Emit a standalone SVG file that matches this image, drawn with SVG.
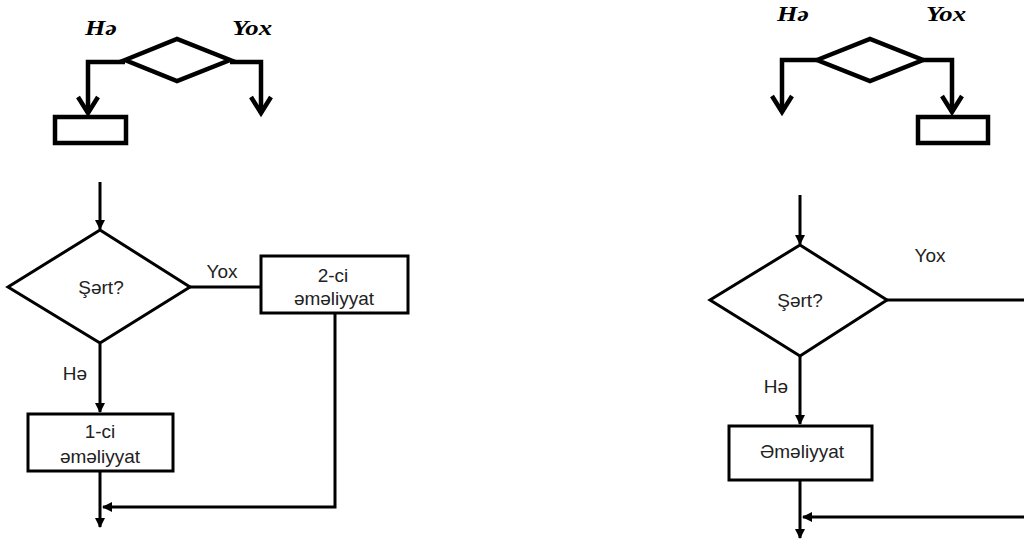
<svg xmlns="http://www.w3.org/2000/svg" width="1024" height="543" viewBox="0 0 1024 543">
<defs>
<style>
.big{fill:none;stroke:#000;stroke-width:4.5;stroke-linejoin:miter}
.ln{fill:none;stroke:#000;stroke-width:3}
.shape{fill:#fff;stroke:#000;stroke-width:3}
.ti{font-family:"Liberation Serif",serif;font-style:italic;font-weight:bold;font-size:22px;fill:#000}
.t{font-family:"Liberation Sans",Arial,sans-serif;font-size:19px;fill:#222;text-anchor:middle}
</style>
<marker id="ah" markerWidth="10" markerHeight="10" refX="9" refY="5" orient="auto" markerUnits="userSpaceOnUse">
<path d="M0,0 L10,5 L0,10 Z" fill="#000"/>
</marker>
</defs>
<rect width="1024" height="543" fill="#fff"/>

<!-- top-left legend -->
<g id="legend-left">
<text class="ti" x="85" y="35" textLength="32" lengthAdjust="spacingAndGlyphs">Hə</text>
<text class="ti" x="232" y="35" textLength="40" lengthAdjust="spacingAndGlyphs">Yox</text>
<polygon class="big" points="125,60 177,39 230,60 177,81"/>
<polyline class="big" points="125,62 88,62 88,113"/>
<polyline class="big" points="78,97 88,113 98,97"/>
<polyline class="big" points="230,62 261,62 261,113"/>
<polyline class="big" points="251,97 261,113 271,97"/>
<rect class="big" x="55" y="117" width="71" height="26"/>
</g>

<!-- top-right legend -->
<g id="legend-right">
<text class="ti" x="777" y="21" textLength="32" lengthAdjust="spacingAndGlyphs">Hə</text>
<text class="ti" x="926" y="21" textLength="40" lengthAdjust="spacingAndGlyphs">Yox</text>
<polygon class="big" points="817,60 870,39 923,60 870,81"/>
<polyline class="big" points="817,60 782,60 782,112"/>
<polyline class="big" points="772,96 782,112 792,96"/>
<polyline class="big" points="923,60 952,60 952,112"/>
<polyline class="big" points="942,96 952,112 962,96"/>
<rect class="big" x="918" y="117" width="70" height="26"/>
</g>

<!-- bottom-left flowchart -->
<g id="connectors-left">
<line class="ln" x1="100" y1="182" x2="100" y2="229" marker-end="url(#ah)"/>
<line class="ln" x1="190" y1="287" x2="260" y2="287"/>
<line class="ln" x1="100" y1="344" x2="100" y2="412" marker-end="url(#ah)"/>
<polyline class="ln" points="335,313 335,507 103,507" marker-end="url(#ah)"/>
<line class="ln" x1="100" y1="471" x2="100" y2="527" marker-end="url(#ah)"/>
<text class="t" x="222" y="278">Yox</text>
<text class="t" x="75" y="380">Hə</text>
</g>
<g id="cond-left">
<polygon class="shape" points="100,230 190,287 100,343 8,287"/>
<text class="t" x="101" y="294">Şərt?</text>
</g>
<g id="op2-left">
<rect class="shape" x="261" y="256" width="147" height="57"/>
<text class="t" x="333" y="282">2-ci</text>
<text class="t" x="334" y="305">əməliyyat</text>
</g>
<g id="op1-left">
<rect class="shape" x="28" y="414" width="145" height="57"/>
<text class="t" x="100" y="438">1-ci</text>
<text class="t" x="100" y="463">əməliyyat</text>
</g>

<!-- bottom-right flowchart -->
<g id="connectors-right">
<line class="ln" x1="800" y1="195" x2="800" y2="244" marker-end="url(#ah)"/>
<line class="ln" x1="887" y1="300" x2="1024" y2="300"/>
<line class="ln" x1="800" y1="356" x2="800" y2="424" marker-end="url(#ah)"/>
<line class="ln" x1="1024" y1="517" x2="803" y2="517" marker-end="url(#ah)"/>
<line class="ln" x1="800" y1="480" x2="800" y2="538" marker-end="url(#ah)"/>
<text class="t" x="930" y="262">Yox</text>
<text class="t" x="776" y="393">Hə</text>
</g>
<g id="cond-right">
<polygon class="shape" points="800,245 887,300 800,356 710,300"/>
<text class="t" x="800" y="307">Şərt?</text>
</g>
<g id="op-right">
<rect class="shape" x="729" y="426" width="143" height="54"/>
<text class="t" x="802" y="458">Əməliyyat</text>
</g>
</svg>
